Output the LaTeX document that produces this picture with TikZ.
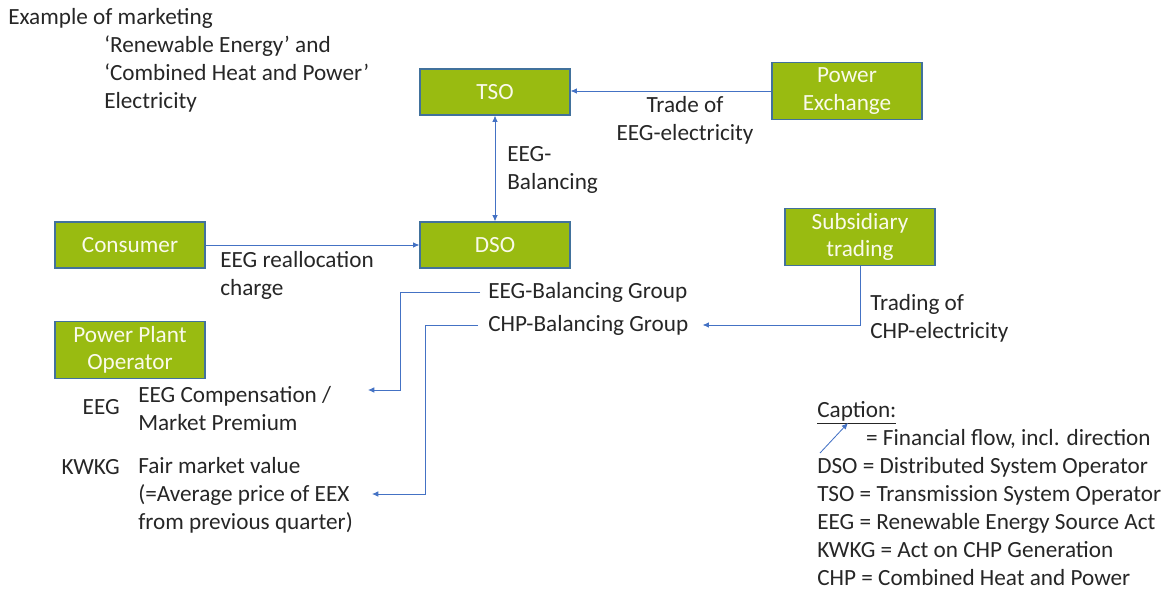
\documentclass[tikz,border=0pt]{standalone}
\usepackage{fontspec}
\setmainfont{Carlito}
\usetikzlibrary{positioning, arrows.meta, calc}

\definecolor{boxgreen}{RGB}{153,187,17}
\definecolor{boxedge}{RGB}{65,113,156}
\definecolor{flowblue}{RGB}{68,114,196}
\definecolor{txtgray}{RGB}{38,38,38}
\definecolor{boxtext}{RGB}{250,250,235}

\begin{document}
\begin{tikzpicture}[
        x=0.025cm, y=-0.025cm,
        actor/.style={rectangle, draw=boxedge, line width=0.8pt, fill=boxgreen, minimum width=3.75cm, minimum height=1.15cm, align=center, text=boxtext, font=\fontsize{16.5}{19.5}\selectfont, inner sep=1pt},
        actortwo/.style={actor, minimum height=1.42cm},
        lbl/.style={align=left, text=txtgray, font=\fontsize{16.5}{19.9}\selectfont, inner sep=0pt},
        flow/.style={-{Latex[length=4.5pt, width=4pt]}, flowblue, line width=0.6pt},
    ]
        \useasboundingbox (0,0) rectangle (1172,592);

        % Title
        \node[lbl, anchor=west] (title) at (8,60) {Example of marketing\\\hspace*{2.4cm}`Renewable Energy' and\\\hspace*{2.4cm}`Combined Heat and Power'\\\hspace*{2.4cm}Electricity};

        % Market actors
        \node[actor] (tso) at (495,92) {TSO};
        \node[actortwo] (px) at (847,91) {Power\\Exchange};
        \node[actor] (dso) at (495,245) {DSO};
        \node[actor] (cons) at (130,245) {Consumer};
        \node[actortwo] (sub) at (860,237) {Subsidiary\\trading};
        \node[actortwo] (ppo) at (130,350) {Power Plant\\Operator};

        % Labels
        \node[lbl, align=center] (trade) at (685,120) {Trade of\\EEG-electricity};
        \node[lbl, anchor=west] (bal) at (507,170) {EEG-\\Balancing};
        \node[lbl, anchor=west] (realloc) at (220,275) {EEG reallocation\\charge};
        \node[lbl, anchor=west] (ebg) at (488,292) {EEG-Balancing Group};
        \node[lbl, anchor=west] (cbg) at (488,325) {CHP-Balancing Group};
        \node[lbl, anchor=west] (chptrade) at (870,318) {Trading of\\CHP-electricity};

        % Remuneration of the plant operator
        \node[lbl, anchor=east] (eeg) at (120,407) {EEG};
        \node[lbl, anchor=west] (comp) at (138,409) {EEG Compensation /\\Market Premium};
        \node[lbl, anchor=east] (kwkg) at (120,467) {KWKG};
        \node[lbl, anchor=west] (fair) at (138,495) {Fair market value\\(=Average price of EEX\\from previous quarter)};

        % Caption
        \node[lbl, anchor=west] (legend) at (817,494) {\underline{Caption:}\\\hspace*{1.22cm}= Financial flow, incl. direction\\DSO = Distributed System Operator\\TSO = Transmission System Operator\\EEG = Renewable Energy Source Act\\KWKG = Act on CHP Generation\\CHP = Combined Heat and Power};

        \coordinate (eegpay) at (368,390);
        \coordinate (chppay) at (372,494);
        \coordinate (keyfrom) at (820,453);
        \coordinate (keyto) at (848,423);

        % Flows
        \draw[flow] (px.west) -- (tso.east |- px.west);
        \draw[flow, {Latex[length=4.5pt, width=4pt]}-{Latex[length=4.5pt, width=4pt]}] (tso.south) -- (dso.north);
        \draw[flow] (cons.east) -- (dso.west);
        \draw[flow] (sub.south) |- ($(cbg.east)+(14,0)$);
        \draw[flow] ($(ebg.west)+(-8,0)$) -| ($(eegpay)+(32,0)$) -- (eegpay);
        \draw[flow] ($(cbg.west)+(-10,0)$) -| ($(chppay)+(53,0)$) -- (chppay);
        \draw[flow] (keyfrom) -- (keyto);
    \end{tikzpicture}
\end{document}
